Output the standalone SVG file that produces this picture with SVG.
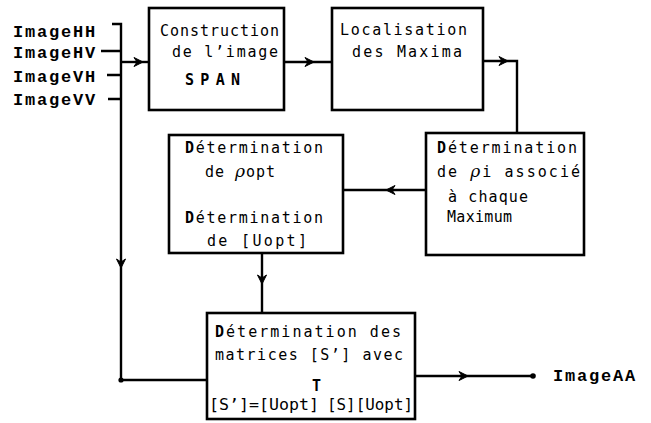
<svg xmlns="http://www.w3.org/2000/svg" xmlns:xlink="http://www.w3.org/1999/xlink" width="651" height="423" viewBox="0 0 651 423">
<style>
.box{fill:none;stroke:#000;stroke-width:2.6}
.ln{fill:none;stroke:#000;stroke-width:2.4}
.t{font-family:"DejaVu Sans Mono","Liberation Mono",monospace;font-size:15px;fill:#000}
.lb{font-family:"Liberation Mono","DejaVu Sans Mono",monospace;font-size:17px;font-weight:bold;letter-spacing:1.8px;fill:#000}
.b{font-weight:bold}
.rho{font-family:"DejaVu Serif",serif;font-style:italic;font-size:17px}
</style>
<defs>
<path id="ah" d="M0,0 L-9,-4.5 L-6,0 L-9,4.5 Z" fill="#000" stroke="#000" stroke-width="1"/>
</defs>
<rect width="651" height="423" fill="#fff"/>
<g id="inputs">
<text class="lb" x="13" y="37">ImageHH</text>
<text class="lb" x="13" y="58">ImageHV</text>
<text class="lb" x="13" y="82">ImageVH</text>
<text class="lb" x="13" y="105">ImageVV</text>
</g>
<g id="connectors">
<path class="ln" d="M112,24 H121 V380 H207"/>
<path class="ln" d="M101,51 H121 M107,75 H121 M108,99 H121"/>
<path class="ln" d="M121,62 H149"/>
<use xlink:href="#ah" transform="translate(143,62)"/>
<path class="ln" d="M284,62 H332"/>
<use xlink:href="#ah" transform="translate(314,62)"/>
<path class="ln" d="M483,61 H517 V133"/>
<use xlink:href="#ah" transform="translate(508,61)"/>
<path class="ln" d="M426,190 H343"/>
<use xlink:href="#ah" transform="translate(386,190) rotate(180)"/>
<path class="ln" d="M262,253 V313"/>
<use xlink:href="#ah" transform="translate(262,284) rotate(90)"/>
<use xlink:href="#ah" transform="translate(121,268) rotate(90)"/>
<circle cx="121" cy="380" r="2.6" fill="#000"/>
<path class="ln" d="M415,376 H533"/>
<use xlink:href="#ah" transform="translate(468,376)"/>
<circle cx="533" cy="376" r="2.8" fill="#000"/>
</g>
<g id="output">
<text class="lb" x="553" y="381">ImageAA</text>
</g>
<g id="construction">
<rect class="box" x="149" y="8" width="135" height="102"/>
<text class="t" x="160" y="36" textLength="119">Construction</text>
<text class="t" x="172" y="57" textLength="106">de l’image</text>
<text class="t b" x="185" y="85" textLength="55">SPAN</text>
</g>
<g id="localisation">
<rect class="box" x="332" y="8" width="151" height="102"/>
<text class="t" x="340" y="35" textLength="127">Localisation</text>
<text class="t" x="352" y="57" textLength="110">des Maxima</text>
</g>
<g id="rho-i">
<rect class="box" x="426" y="133" width="158" height="122"/>
<text class="t" x="437" y="153" textLength="140"><tspan class="b">D</tspan>étermination</text>
<text class="t" x="437" y="177" textLength="143">de <tspan class="rho">ρ</tspan>i associé</text>
<text class="t" x="448" y="202" textLength="80">à chaque</text>
<text class="t" x="447" y="222" textLength="65">Maximum</text>
</g>
<g id="rho-opt">
<rect class="box" x="169" y="135" width="174" height="118"/>
<text class="t" x="185" y="153" textLength="138"><tspan class="b">D</tspan>étermination</text>
<text class="t" x="205" y="177" textLength="70">de <tspan class="rho">ρ</tspan>opt</text>
<text class="t" x="185" y="223" textLength="138"><tspan class="b">D</tspan>étermination</text>
<text class="t" x="207" y="246" textLength="100">de [Uopt]</text>
</g>
<g id="matrices">
<rect class="box" x="207" y="313" width="208" height="106"/>
<text class="t" x="215" y="337" textLength="186"><tspan class="b">D</tspan>étermination des</text>
<text class="t" x="215" y="360" textLength="188">matrices [S’] avec</text>
<text class="t b" x="312" y="391" font-size="13">T</text>
<text class="t" x="209" y="410" textLength="110" lengthAdjust="spacingAndGlyphs">[S’]=[Uopt]</text>
<text class="t" x="327" y="410" textLength="86" lengthAdjust="spacingAndGlyphs">[S][Uopt]</text>
</g>
</svg>
